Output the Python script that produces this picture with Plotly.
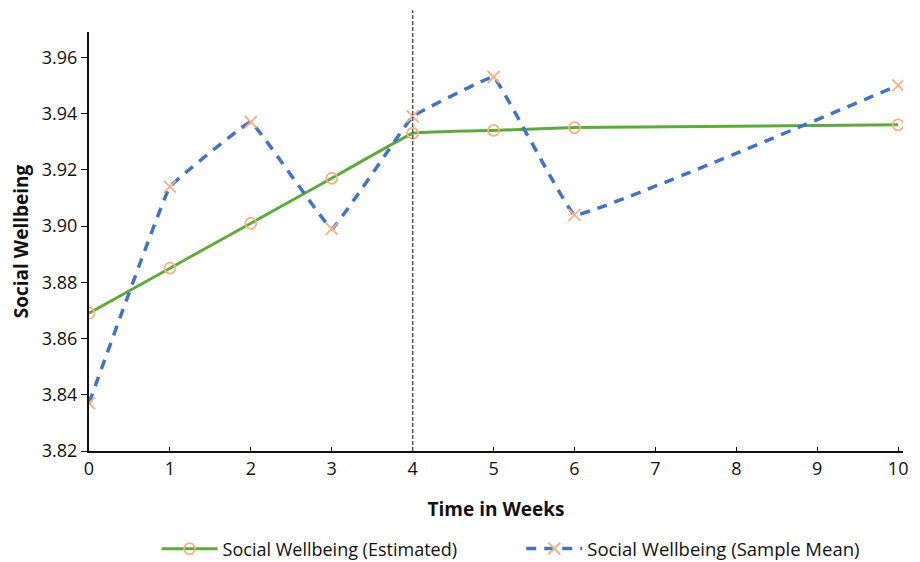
import plotly.graph_objects as go

weeks = [0, 1, 2, 3, 4, 5, 6, 10]
estimated = [3.869, 3.885, 3.901, 3.917, 3.933, 3.934, 3.935, 3.936]
sample_mean = [3.837, 3.914, 3.937, 3.899, 3.939, 3.953, 3.904, 3.950]
x_ticks = list(range(0, 11))
y_ticks = [3.82, 3.84, 3.86, 3.88, 3.90, 3.92, 3.94, 3.96]
phase_split_week = 4

font_family = "Open Sans, Liberation Sans, sans-serif"
peach = "#F4B183"

fig = go.Figure()
fig.add_trace(go.Scatter(
    x=weeks, y=estimated, name="Social Wellbeing (Estimated)", legend="legend",
    mode="lines+markers", line=dict(color="#5FAA3A", width=3, shape="spline", smoothing=0.15),
    marker=dict(symbol="circle-open", size=11, color=peach, line=dict(width=1.8, color=peach)),
))
fig.add_trace(go.Scatter(
    x=weeks, y=sample_mean, name="Social Wellbeing (Sample Mean)", legend="legend2",
    mode="lines+markers", line=dict(color="#4472C4", width=3.5, dash="10px,8px", shape="spline", smoothing=0.15),
    marker=dict(symbol="x-thin-open", size=12, color=peach, line=dict(width=1.8, color=peach)),
))

fig.add_shape(type="line", xref="x", yref="paper", x0=phase_split_week, x1=phase_split_week, y0=0, y1=1.052,
              line=dict(color="#555555", width=1.5, dash="4px,2px"))

fig.update_layout(
    width=904, height=554,
    margin=dict(l=81, r=9, t=24, b=111),
    paper_bgcolor="white", plot_bgcolor="white",
    font=dict(family=font_family, size=18, color="#111111"),
    showlegend=True,
    legend=dict(orientation="h", x=0.083, xanchor="left", yref="container", y=0.0235, yanchor="middle",
                font=dict(size=18), itemwidth=56),
    legend2=dict(orientation="h", x=0.531, xanchor="left", yref="container", y=0.0235, yanchor="middle",
                 font=dict(size=18.5), itemwidth=56),
    xaxis=dict(range=[0, 10.06], tickvals=x_ticks, showline=True, linecolor="#111111", linewidth=2,
               ticks="inside", ticklen=4, tickcolor="#111111", showgrid=False, zeroline=False,
               automargin=False, tickfont=dict(size=18),
               title=dict(text="<b>Time in Weeks</b>", font=dict(size=19), standoff=24)),
    yaxis=dict(range=[3.82, 3.969], tickvals=y_ticks, tickformat=".2f", showline=True, linecolor="#111111",
               linewidth=2, ticks="outside", ticklen=6, tickcolor="#111111", showgrid=False, zeroline=False,
               automargin=False, tickfont=dict(size=18),
               title=dict(text="<b>Social Wellbeing</b>", font=dict(size=19), standoff=16)),
)

fig.write_html("out.html")
